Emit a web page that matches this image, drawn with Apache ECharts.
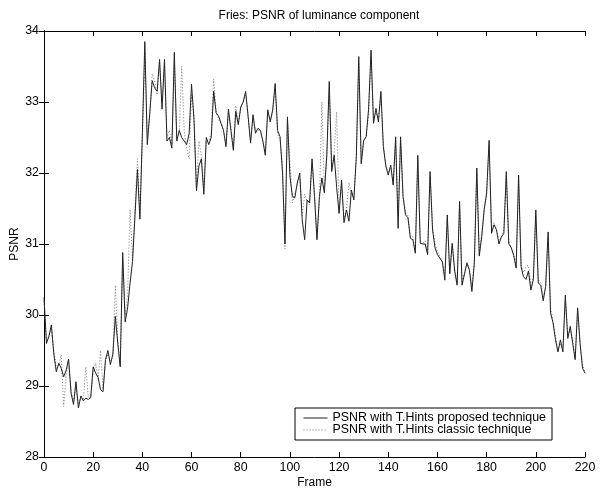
<!DOCTYPE html>
<html>
<head>
<meta charset="utf-8">
<script src="https://cdn.jsdelivr.net/npm/echarts@6/dist/echarts.min.js"></script>
<style>
html,body{margin:0;padding:0;background:#fff;}
#chart{width:605px;height:488px;}
</style>
</head>
<body>
<div id="chart"></div>
<script>
var titleText = 'Fries: PSNR of luminance component';
var xName = 'Frame';
var yName = 'PSNR';
var seriesNames = ['PSNR with T.Hints proposed technique', 'PSNR with T.Hints classic technique'];
var xTicks = [0, 20, 40, 60, 80, 100, 120, 140, 160, 180, 200, 220];
var yTicks = [28, 29, 30, 31, 32, 33, 34];

// frame 0..220
var proposed = [
30.25,29.6,29.7,29.86,29.45,29.2,29.32,29.25,29.13,29.22,
29.38,28.9,28.74,29.06,28.69,28.86,28.79,28.83,28.81,28.84,
29.27,29.18,29.12,28.95,28.92,29.37,29.5,29.3,29.45,29.98,
29.6,29.27,30.88,29.9,30.1,30.45,30.75,31.4,32.05,31.35,
32.55,33.85,32.4,32.84,33.3,33.2,33.15,33.6,32.9,33.6,
32.45,32.5,32.35,33.7,32.45,32.6,32.5,32.45,32.4,32.55,
33.25,32.75,31.75,32.1,32.2,31.7,32.5,32.4,32.5,33.15,
32.85,32.8,32.7,32.6,32.37,32.9,32.6,32.32,32.87,32.68,
32.93,33.0,33.15,32.8,32.42,32.82,32.56,32.63,32.6,32.45,
32.25,32.89,32.72,32.89,33.26,32.6,32.51,32.0,31.0,32.79,
31.96,31.67,31.65,31.86,32.0,31.34,31.06,31.62,31.58,32.2,
31.67,31.06,31.67,31.93,31.72,32.25,33.29,32.02,32.25,31.8,
31.43,31.9,31.3,31.48,31.32,31.76,31.62,32.23,33.64,32.13,
32.46,32.51,32.9,33.73,32.7,32.91,32.72,33.15,32.37,32.1,
31.97,32.11,31.83,32.51,31.22,32.51,31.67,31.41,31.37,31.08,
31.06,30.87,32.25,31.01,31.0,31.0,30.85,32.02,31.2,30.95,
30.85,30.8,30.75,30.49,31.41,30.58,31.01,30.62,30.42,31.6,
30.42,30.58,30.73,30.63,30.33,30.73,32.07,30.83,31.1,31.48,
31.72,32.46,31.15,31.27,31.2,31.0,31.1,31.15,32.02,31.0,
30.95,30.84,30.66,31.97,30.68,30.54,30.5,30.62,30.35,30.5,
31.48,30.45,30.42,30.2,30.4,31.17,30.03,29.89,29.65,29.48,
29.65,29.48,30.28,29.67,29.84,29.6,29.37,30.1,29.6,29.25,
29.18
];

var classic = [
30.2,29.65,29.7,29.8,29.5,29.25,29.3,29.44,28.71,29.15,
29.35,28.95,28.78,29.0,28.72,28.85,28.8,29.27,28.85,28.82,
29.2,29.32,29.1,29.5,28.95,29.35,29.45,29.35,29.4,30.42,
29.65,29.3,30.8,30.0,30.3,31.48,30.8,31.5,32.2,31.4,
32.5,33.7,32.5,32.8,33.4,33.3,33.1,33.55,33.0,33.55,
32.5,32.6,32.4,33.6,32.5,32.55,33.5,32.6,32.35,32.2,
33.1,32.8,31.8,32.45,32.25,31.75,32.45,32.45,32.55,33.32,
32.85,32.75,32.7,32.6,32.4,32.85,32.65,32.35,32.95,32.7,
32.9,33.0,33.1,32.8,32.45,32.8,32.6,32.6,32.6,32.45,
32.3,32.85,32.75,32.85,33.2,32.55,32.45,32.1,30.93,32.75,
32.16,31.58,31.7,31.85,31.95,31.4,31.7,31.6,31.55,32.15,
31.7,31.1,31.6,33.0,31.8,32.2,33.2,32.05,32.3,32.86,
31.45,31.85,31.35,31.5,31.86,31.7,31.65,32.2,33.55,32.15,
32.45,32.5,32.85,33.65,32.75,32.85,32.75,33.1,32.4,32.1,
32.0,32.1,31.85,32.45,31.4,32.45,31.7,31.45,31.4,31.1,
31.1,30.9,32.2,31.05,31.0,31.05,30.9,31.95,31.25,31.0,
30.9,30.82,30.75,30.55,31.35,30.6,31.0,30.65,30.45,31.55,
30.45,30.6,30.75,30.65,30.4,30.75,32.0,30.85,31.15,31.5,
31.7,32.4,31.2,31.3,31.2,31.05,31.1,31.2,31.95,31.05,
30.95,30.85,30.7,31.9,30.7,30.6,30.68,30.7,30.4,30.55,
31.4,30.5,30.45,30.25,30.4,31.1,30.1,29.9,29.7,29.5,
29.6,29.5,30.2,29.7,29.8,29.65,29.4,30.05,29.6,29.3,
29.2
];

function pairs(arr){ return arr.map(function(v,i){ return [i, v]; }); }

var FONT = 'Liberation Sans, Arial, Helvetica, sans-serif';
var chart = echarts.init(document.getElementById('chart'), null, {renderer:'canvas'});

var axisCommon = {
  axisLine:{show:true, lineStyle:{color:'#000', width:1}},
  axisTick:{show:true, inside:true, length:5, lineStyle:{color:'#000', width:1}},
  splitLine:{show:false}
};

chart.setOption({
  animation:false,
  backgroundColor:'#fff',
  title:{
    text:titleText, left:314, textAlign:'center', top:5,
    textStyle:{fontFamily:FONT, fontSize:12, fontWeight:'normal', color:'#000'}
  },
  grid:{left:44, top:31, right:20, bottom:31, containLabel:false, outerBoundsMode:'none'},
  legend:{
    show:true,
    left:295, top:408, orient:'vertical',
    backgroundColor:'#fff', borderColor:'#000', borderWidth:1, borderRadius:0,
    padding:[4,6,4,8], itemGap:0, itemWidth:24, itemHeight:12,
    itemStyle:{opacity:0},
    lineStyle:{width:1},
    textStyle:{fontFamily:FONT, fontSize:12.4, color:'#000'},
    data:seriesNames
  },
  xAxis:[
    Object.assign({
      type:'value', min:0, max:220, interval:20, position:'bottom',
      name:xName, nameLocation:'middle', nameGap:20, nameMoveOverlap:false,
      nameTextStyle:{fontFamily:FONT, fontSize:12, color:'#000'},
      axisLabel:{fontFamily:FONT, fontSize:12.4, color:'#000', margin:5,
        formatter:function(v){ return xTicks.indexOf(v) >= 0 ? String(v) : ''; }}
    }, axisCommon),
    Object.assign({
      type:'value', min:0, max:220, interval:20, position:'top',
      axisLabel:{show:false}
    }, axisCommon)
  ],
  yAxis:[
    Object.assign({
      type:'value', min:28, max:34, interval:1, position:'left',
      name:yName, nameLocation:'middle', nameGap:23, nameRotate:90, nameMoveOverlap:false,
      nameTextStyle:{fontFamily:FONT, fontSize:12, color:'#000'},
      axisLabel:{fontFamily:FONT, fontSize:12.4, color:'#000', margin:5,
        formatter:function(v){ return yTicks.indexOf(v) >= 0 ? String(v) : ''; }}
    }, axisCommon),
    Object.assign({
      type:'value', min:28, max:34, interval:1, position:'right',
      axisLabel:{show:false}
    }, axisCommon)
  ],
  series:[
    {
      name:seriesNames[0], type:'line', xAxisIndex:0, yAxisIndex:0,
      data:pairs(proposed), symbol:'none', showSymbol:false,
      lineStyle:{color:'#222', width:1}, itemStyle:{color:'#222'}, z:3
    },
    {
      name:seriesNames[1], type:'line', xAxisIndex:0, yAxisIndex:0,
      data:pairs(classic), symbol:'none', showSymbol:false,
      lineStyle:{color:'#777', width:1, type:[1,2]}, itemStyle:{color:'#777'}, z:2
    }
  ]
});
</script>
</body>
</html>
